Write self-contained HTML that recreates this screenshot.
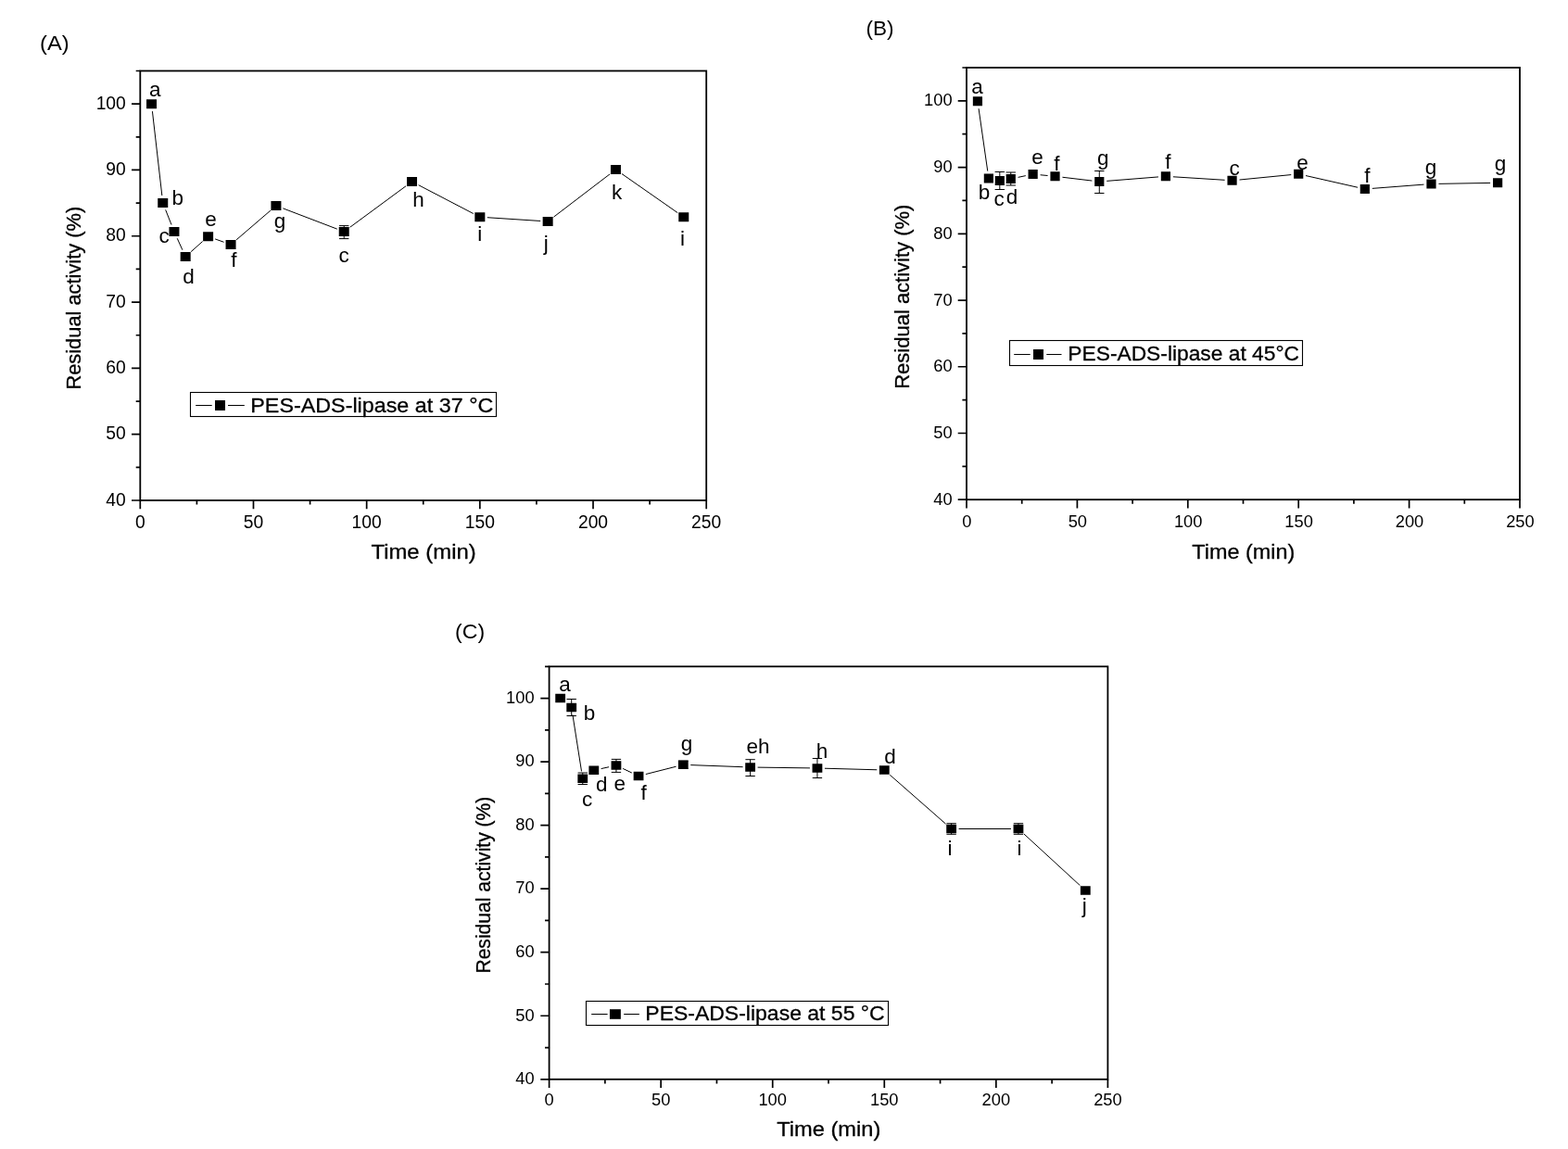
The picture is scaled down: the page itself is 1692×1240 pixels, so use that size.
<!DOCTYPE html>
<html lang="en">
<head>
<meta charset="utf-8">
<title>Residual activity of PES-ADS-lipase at 37, 45 and 55 °C</title>
<style>
html,body{margin:0;padding:0;background:#fff;}
body{width:1692px;height:1240px;overflow:hidden;}
svg{display:block;font-family:"Liberation Sans", Arial, Helvetica, sans-serif;fill:#000;}
svg text{stroke:none;}
svg text.b{stroke:#000;stroke-width:0.3px;stroke-linejoin:round;}
</style>
</head>
<body>
<svg width="1692" height="1240" viewBox="0 0 1692 1240" role="img" aria-label="Thermal stability charts">
<rect width="1692" height="1240" fill="#fff"/>
<g id="chart-A">
<rect x="151.3" y="76.5" width="610.9" height="463.5" fill="none" stroke="#000" stroke-width="1.8"/>
<path d="M151.3 540v9.3M212.39 540v4.6M273.48 540v9.3M334.57 540v4.6M395.66 540v9.3M456.75 540v4.6M517.84 540v9.3M578.93 540v4.6M640.02 540v9.3M701.11 540v4.6M762.2 540v9.3M151.3 540h-9.3M151.3 504.35h-4.6M151.3 468.69h-9.3M151.3 433.04h-4.6M151.3 397.38h-9.3M151.3 361.73h-4.6M151.3 326.08h-9.3M151.3 290.42h-4.6M151.3 254.77h-9.3M151.3 219.12h-4.6M151.3 183.46h-9.3M151.3 147.81h-4.6M151.3 112.15h-9.3M151.3 76.5h-4.6" stroke="#000" stroke-width="1.7" fill="none"/>
<g font-size="19.3">
<text x="151.3" y="569.6" text-anchor="middle">0</text>
<text x="273.48" y="569.6" text-anchor="middle">50</text>
<text x="395.66" y="569.6" text-anchor="middle">100</text>
<text x="517.84" y="569.6" text-anchor="middle">150</text>
<text x="640.02" y="569.6" text-anchor="middle">200</text>
<text x="762.2" y="569.6" text-anchor="middle">250</text>
<text x="135.8" y="545.5" text-anchor="end">40</text>
<text x="135.8" y="474.19" text-anchor="end">50</text>
<text x="135.8" y="402.88" text-anchor="end">60</text>
<text x="135.8" y="331.58" text-anchor="end">70</text>
<text x="135.8" y="260.27" text-anchor="end">80</text>
<text x="135.8" y="188.96" text-anchor="end">90</text>
<text x="135.8" y="117.65" text-anchor="end">100</text>
</g>
<text x="457.1" y="603.1" font-size="22.5" text-anchor="middle" class="b" textLength="113.3" lengthAdjust="spacingAndGlyphs">Time (min)</text>
<text transform="translate(87.2 321.7) rotate(-90)" font-size="22.7" text-anchor="middle" class="b" textLength="197.8" lengthAdjust="spacingAndGlyphs">Residual activity (%)</text>
<text x="43" y="53.7" font-size="22.5" textLength="31.6" lengthAdjust="spacingAndGlyphs">(A)</text>
<path d="M164.43 120.15L174.83 211.05M178.67 226.44L185.02 242.56M191.25 257.29L196.87 269.71M206.14 271.67L218.64 260.53M232.13 257.91L241.52 261.29M255.11 258.79L291.85 227.21M305.39 224.85L363.75 247.15M377.67 245.26L438.09 200.74M451.63 199.7L510.75 230.5M525.82 234.72L583.17 238.48M597.51 234.14L658.1 187.86M671.01 187.58L731.21 229.62" stroke="#000" stroke-width="1" fill="none"/>
<path d="M371.22 243.6V257.6M366.02 243.6h10.4M366.02 257.6h10.4" stroke="#000" stroke-width="1" fill="none"/>
<path d="M158.02 107.25h11v9.9h-11zM170.24 214.05h11v9.9h-11zM182.45 245.05h11v9.9h-11zM194.67 272.05h11v9.9h-11zM219.11 250.25h11v9.9h-11zM243.54 259.05h11v9.9h-11zM292.42 217.05h11v9.9h-11zM365.72 245.05h11v9.9h-11zM439.03 191.05h11v9.9h-11zM512.34 229.25h11v9.9h-11zM585.65 234.05h11v9.9h-11zM658.96 178.05h11v9.9h-11zM732.26 229.25h11v9.9h-11z" fill="#000"/>
<g font-size="22.5" text-anchor="middle">
<text x="167.3" y="104">a</text>
<text x="191.8" y="221">b</text>
<text x="177" y="262">c</text>
<text x="203.5" y="306">d</text>
<text x="227.5" y="244">e</text>
<text x="252.5" y="288.2">f</text>
<text x="302" y="246">g</text>
<text x="371" y="283.2">c</text>
<text x="451.5" y="223">h</text>
<text x="517.7" y="260.2">i</text>
<text x="589.3" y="269.8">j</text>
<text x="665.5" y="214.9">k</text>
<text x="736.5" y="265.3">i</text>
</g>
<rect x="205.5" y="423.5" width="330" height="26" fill="#fff" stroke="#000" stroke-width="1.1"/>
<path d="M211.2 437.5H228.7M246 437.5H263.8" stroke="#000" stroke-width="1" fill="none"/>
<rect x="232" y="432" width="11" height="11" fill="#000"/>
<text x="270.3" y="445" font-size="22.4" class="b" textLength="262" lengthAdjust="spacingAndGlyphs">PES-ADS-lipase at 37 °C</text>
</g>
<g id="chart-B">
<rect x="1043" y="73" width="597" height="466.2" fill="none" stroke="#000" stroke-width="1.8"/>
<path d="M1043 539.2v9.3M1102.7 539.2v4.6M1162.4 539.2v9.3M1222.1 539.2v4.6M1281.8 539.2v9.3M1341.5 539.2v4.6M1401.2 539.2v9.3M1460.9 539.2v4.6M1520.6 539.2v9.3M1580.3 539.2v4.6M1640 539.2v9.3M1043 539.2h-9.3M1043 503.34h-4.6M1043 467.48h-9.3M1043 431.62h-4.6M1043 395.75h-9.3M1043 359.89h-4.6M1043 324.03h-9.3M1043 288.17h-4.6M1043 252.31h-9.3M1043 216.45h-4.6M1043 180.58h-9.3M1043 144.72h-4.6M1043 108.86h-9.3M1043 73h-4.6" stroke="#000" stroke-width="1.7" fill="none"/>
<g font-size="18.3">
<text x="1043.4" y="568.7" text-anchor="middle">0</text>
<text x="1162.8" y="568.7" text-anchor="middle">50</text>
<text x="1282.2" y="568.7" text-anchor="middle">100</text>
<text x="1401.6" y="568.7" text-anchor="middle">150</text>
<text x="1521" y="568.7" text-anchor="middle">200</text>
<text x="1640.4" y="568.7" text-anchor="middle">250</text>
<text x="1027.6" y="544.8" text-anchor="end">40</text>
<text x="1027.6" y="473.08" text-anchor="end">50</text>
<text x="1027.6" y="401.35" text-anchor="end">60</text>
<text x="1027.6" y="329.63" text-anchor="end">70</text>
<text x="1027.6" y="257.91" text-anchor="end">80</text>
<text x="1027.6" y="186.18" text-anchor="end">90</text>
<text x="1027.6" y="114.46" text-anchor="end">100</text>
</g>
<text x="1341.8" y="602.8" font-size="22.6" text-anchor="middle" class="b" textLength="111" lengthAdjust="spacingAndGlyphs">Time (min)</text>
<text transform="translate(980.8 320.2) rotate(-90)" font-size="22.6" text-anchor="middle" class="b" textLength="199.3" lengthAdjust="spacingAndGlyphs">Residual activity (%)</text>
<text x="934.5" y="38.2" font-size="22.5">(B)</text>
<path d="M1056.08 117.22L1065.74 184.58M1098.59 191.36L1106.81 189.64M1122.6 188.77L1130.56 189.53M1146.46 191.25L1178.34 195.05M1194.25 195.37L1249.95 190.93M1265.9 190.8L1321.58 194.3M1337.52 194.02L1393.24 188.58M1409 189.56L1465.04 202.24M1480.82 203.39L1536.5 199.11M1552.48 198.37L1608.12 197.43" stroke="#000" stroke-width="1" fill="none"/>
<path d="M1078.82 185.5V204.5M1073.62 185.5h10.4M1073.62 204.5h10.4M1090.76 186V200M1085.56 186h10.4M1085.56 200h10.4M1186.28 184.5V208.5M1181.08 184.5h10.4M1181.08 208.5h10.4" stroke="#000" stroke-width="1" fill="none"/>
<path d="M1049.84 104.3h10.2v10h-10.2zM1061.78 187.5h10.2v10h-10.2zM1073.72 190h10.2v10h-10.2zM1085.66 188h10.2v10h-10.2zM1109.54 183h10.2v10h-10.2zM1133.42 185.3h10.2v10h-10.2zM1181.18 191h10.2v10h-10.2zM1252.82 185.3h10.2v10h-10.2zM1324.46 189.8h10.2v10h-10.2zM1396.1 182.8h10.2v10h-10.2zM1467.74 199h10.2v10h-10.2zM1539.38 193.5h10.2v10h-10.2zM1611.02 192.3h10.2v10h-10.2z" fill="#000"/>
<g font-size="22.5" text-anchor="middle">
<text x="1054.5" y="101">a</text>
<text x="1062" y="215.3">b</text>
<text x="1078" y="222">c</text>
<text x="1092" y="220">d</text>
<text x="1119.5" y="177">e</text>
<text x="1140.3" y="184.2">f</text>
<text x="1190.2" y="177.5">g</text>
<text x="1260.5" y="181.7">f</text>
<text x="1332" y="189">c</text>
<text x="1405.5" y="182.6">e</text>
<text x="1475.5" y="196.6">f</text>
<text x="1544" y="187.5">g</text>
<text x="1619.1" y="184.3">g</text>
</g>
<rect x="1089.5" y="367.5" width="316" height="27" fill="#fff" stroke="#000" stroke-width="1.1"/>
<path d="M1094.2 382.5H1111.7M1129.3 382.5H1145.5" stroke="#000" stroke-width="1" fill="none"/>
<rect x="1115" y="377" width="11" height="11" fill="#000"/>
<text x="1152.3" y="389.2" font-size="22.3" class="b" textLength="249.7" lengthAdjust="spacingAndGlyphs">PES-ADS-lipase at 45°C</text>
</g>
<g id="chart-C">
<rect x="592.6" y="719.3" width="602.8" height="445.5" fill="none" stroke="#000" stroke-width="1.8"/>
<path d="M592.6 1164.8v9.3M652.88 1164.8v4.6M713.16 1164.8v9.3M773.44 1164.8v4.6M833.72 1164.8v9.3M894 1164.8v4.6M954.28 1164.8v9.3M1014.56 1164.8v4.6M1074.84 1164.8v9.3M1135.12 1164.8v4.6M1195.4 1164.8v9.3M592.6 1164.8h-9.3M592.6 1130.53h-4.6M592.6 1096.26h-9.3M592.6 1061.99h-4.6M592.6 1027.72h-9.3M592.6 993.45h-4.6M592.6 959.18h-9.3M592.6 924.92h-4.6M592.6 890.65h-9.3M592.6 856.38h-4.6M592.6 822.11h-9.3M592.6 787.84h-4.6M592.6 753.57h-9.3M592.6 719.3h-4.6" stroke="#000" stroke-width="1.7" fill="none"/>
<g font-size="18.3">
<text x="592.6" y="1193.2" text-anchor="middle">0</text>
<text x="713.16" y="1193.2" text-anchor="middle">50</text>
<text x="833.72" y="1193.2" text-anchor="middle">100</text>
<text x="954.28" y="1193.2" text-anchor="middle">150</text>
<text x="1074.84" y="1193.2" text-anchor="middle">200</text>
<text x="1195.4" y="1193.2" text-anchor="middle">250</text>
<text x="576.6" y="1170.1" text-anchor="end">40</text>
<text x="576.6" y="1101.56" text-anchor="end">50</text>
<text x="576.6" y="1033.02" text-anchor="end">60</text>
<text x="576.6" y="964.48" text-anchor="end">70</text>
<text x="576.6" y="895.95" text-anchor="end">80</text>
<text x="576.6" y="827.41" text-anchor="end">90</text>
<text x="576.6" y="758.87" text-anchor="end">100</text>
</g>
<text x="894.3" y="1225.9" font-size="21.7" text-anchor="middle" class="b" textLength="112" lengthAdjust="spacingAndGlyphs">Time (min)</text>
<text transform="translate(529 955.1) rotate(-90)" font-size="22.2" text-anchor="middle" class="b" textLength="191" lengthAdjust="spacingAndGlyphs">Residual activity (%)</text>
<text x="491" y="688.6" font-size="22.5" textLength="32.1" lengthAdjust="spacingAndGlyphs">(C)</text>
<path d="M617.95 771.4L627.53 832.4M648.64 829.58L657.12 827.72M672.16 829.44L681.83 834.06M696.8 835.54L729.52 827.26M745.27 825.6L801.61 827.7M817.61 828.11L873.94 828.89M889.94 829.22L946.28 830.78M960.29 836.28L1020.6 889.22M1034.62 894.5L1090.95 894.5M1104.84 899.91L1165.4 955.59" stroke="#000" stroke-width="1" fill="none"/>
<path d="M616.71 754.5V772.5M611.51 754.5h10.4M611.51 772.5h10.4M628.77 834V846.5M623.57 834h10.4M623.57 846.5h10.4M664.94 819.4V833.4M659.74 819.4h10.4M659.74 833.4h10.4M737.27 821.3V829.3M732.07 821.3h10.4M732.07 829.3h10.4M809.61 819.7V837.5M804.41 819.7h10.4M804.41 837.5h10.4M881.94 818.5V839.5M876.74 818.5h10.4M876.74 839.5h10.4M1026.62 888.7V900.3M1021.42 888.7h10.4M1021.42 900.3h10.4M1098.95 888.7V900.3M1093.75 888.7h10.4M1093.75 900.3h10.4" stroke="#000" stroke-width="1" fill="none"/>
<path d="M599.26 748.75h10.8v9.5h-10.8zM611.31 758.75h10.8v9.5h-10.8zM623.37 835.55h10.8v9.5h-10.8zM635.42 826.55h10.8v9.5h-10.8zM659.54 821.25h10.8v9.5h-10.8zM683.65 832.75h10.8v9.5h-10.8zM731.87 820.55h10.8v9.5h-10.8zM804.21 823.25h10.8v9.5h-10.8zM876.54 824.25h10.8v9.5h-10.8zM948.88 826.25h10.8v9.5h-10.8zM1021.22 889.75h10.8v9.5h-10.8zM1093.55 889.75h10.8v9.5h-10.8zM1165.89 956.25h10.8v9.5h-10.8z" fill="#000"/>
<g font-size="22.5" text-anchor="middle">
<text x="609.6" y="746.4">a</text>
<text x="635.9" y="777">b</text>
<text x="633.5" y="869.6">c</text>
<text x="649.2" y="853.5">d</text>
<text x="668.7" y="852.5">e</text>
<text x="694.7" y="863.1">f</text>
<text x="741" y="809.9">g</text>
<text x="818.1" y="813">eh</text>
<text x="887" y="817.8">h</text>
<text x="960.5" y="824">d</text>
<text x="1025" y="922.8">i</text>
<text x="1100" y="922.8">i</text>
<text x="1170.3" y="985.4">j</text>
</g>
<rect x="632.5" y="1080.5" width="326" height="26" fill="#fff" stroke="#000" stroke-width="1.1"/>
<path d="M638.2 1094.5H655.6M673.2 1094.5H689.9" stroke="#000" stroke-width="1" fill="none"/>
<rect x="657.95" y="1089.2" width="11.9" height="10.6" fill="#000"/>
<text x="696.3" y="1101.4" font-size="21.6" class="b" textLength="258.3" lengthAdjust="spacingAndGlyphs">PES-ADS-lipase at 55 °C</text>
</g>
</svg>
</body>
</html>
